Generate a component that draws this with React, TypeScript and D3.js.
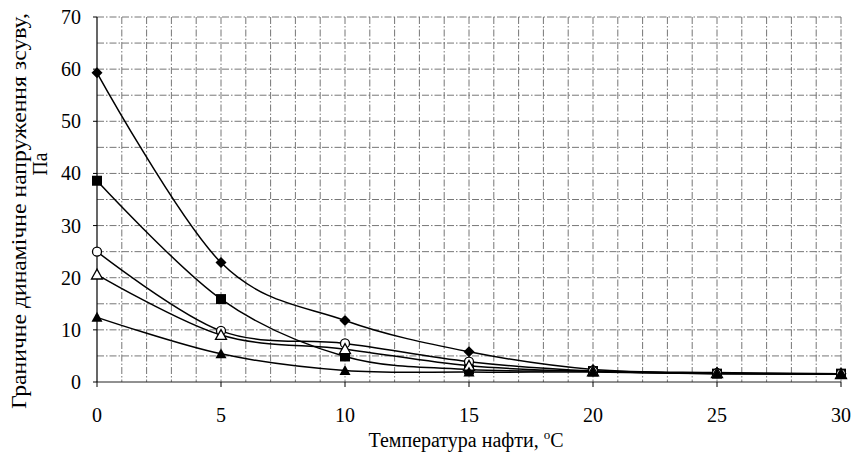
import React from "react";
import * as d3 from "d3";

const temps = [0, 5, 10, 15, 20, 25, 30];
const seriesDiamond = [59.3, 22.9, 11.8, 5.8, 2.4, 1.8, 1.6];
const seriesSquare = [38.6, 15.9, 4.9, 2.4, 2.1, 1.6, 1.6];
const seriesCircle = [25.0, 9.8, 7.4, 3.9, 2.1, 1.7, 1.6];
const seriesTriOpen = [20.6, 9.0, 6.3, 3.1, 2.0, 1.7, 1.5];
const seriesTriFilled = [12.4, 5.4, 2.2, 1.9, 1.9, 1.6, 1.5];
const xTicks = [0, 5, 10, 15, 20, 25, 30];
const yTicks = [0, 10, 20, 30, 40, 50, 60, 70];

const series = [
  { name: "diamond", values: seriesDiamond, marker: "diamond" },
  { name: "square", values: seriesSquare, marker: "square" },
  { name: "circle", values: seriesCircle, marker: "circle" },
  { name: "triOpen", values: seriesTriOpen, marker: "triOpen" },
  { name: "triFilled", values: seriesTriFilled, marker: "triFilled" },
];

const W = 862;
const H = 452;
const L = 97, R = 841, T = 17, B = 382;

export default function App() {
  const x = d3.scaleLinear().domain([0, 30]).range([L, R]);
  const y = d3.scaleLinear().domain([0, 70]).range([B, T]);
  const line = d3
    .line<number>()
    .x((_, i) => x(temps[i]))
    .y((d) => y(d))
    .curve(d3.curveCatmullRom.alpha(0));
  const vGrid = d3.range(1, 31);
  const hGrid = d3.range(5, 71, 5);
  const font = "Liberation Serif, DejaVu Serif, serif";
  const dash = "7,2,1.5,2";

  const marker = (m: string, cx: number, cy: number, key: string) => {
    if (m === "diamond") {
      const s = 5.5;
      return <path key={key} d={`M${cx},${cy - s}L${cx + s},${cy}L${cx},${cy + s}L${cx - s},${cy}Z`} fill="#000" />;
    }
    if (m === "square") {
      const s = 5;
      return <rect key={key} x={cx - s} y={cy - s} width={2 * s} height={2 * s} fill="#000" />;
    }
    if (m === "circle") {
      return <circle key={key} cx={cx} cy={cy} r={4.5} fill="#fff" stroke="#000" strokeWidth={1.3} />;
    }
    const s = 5.5;
    const d = `M${cx},${cy - s}L${cx + s},${cy + s * 0.8}L${cx - s},${cy + s * 0.8}Z`;
    if (m === "triOpen") return <path key={key} d={d} fill="#fff" stroke="#000" strokeWidth={1.3} />;
    return <path key={key} d={d} fill="#000" />;
  };

  return (
    <svg width={W} height={H} style={{ position: "absolute", left: 0, top: 0, background: "#fff" }}>
      <rect x={0} y={0} width={W} height={H} fill="#fff" />
      <g stroke="#666" strokeWidth={0.9} strokeDasharray={dash}>
        {vGrid.map((v) => (
          <line key={"v" + v} x1={x(v)} x2={x(v)} y1={T} y2={B} />
        ))}
        {hGrid.map((v) => (
          <line key={"h" + v} x1={L} x2={R} y1={y(v)} y2={y(v)} />
        ))}
      </g>
      <line x1={L} x2={R} y1={B} y2={B} stroke="#222" strokeWidth={1} />
      <line x1={L} x2={L} y1={T} y2={B} stroke="#000" strokeWidth={1.2} />
      {xTicks.map((v) => (
        <line key={"xt" + v} x1={x(v)} x2={x(v)} y1={B} y2={B + 5} stroke="#000" strokeWidth={1} />
      ))}
      {yTicks.map((v) => (
        <line key={"yt" + v} x1={L - 4} x2={L} y1={y(v)} y2={y(v)} stroke="#000" strokeWidth={1} />
      ))}
      {series.map((s) => (
        <path key={s.name} d={line(s.values) || ""} fill="none" stroke="#000" strokeWidth={1.5} />
      ))}
      {series.map((s) => s.values.map((v, i) => marker(s.marker, x(temps[i]), y(v), s.name + i)))}
      <g fontFamily={font} fontSize={20} fill="#000">
        {xTicks.map((v) => (
          <text key={"xl" + v} x={x(v)} y={422} textAnchor="middle">{v}</text>
        ))}
        {yTicks.map((v) => (
          <text key={"yl" + v} x={81} y={y(v) + 7} textAnchor="end">{v}</text>
        ))}
        <text x={466} y={447} textAnchor="middle" fontSize={20}>
          Температура нафти, <tspan fontSize={13} dy={-8}>o</tspan><tspan dy={8}>C</tspan>
        </text>
        <text transform="translate(26,211) rotate(-90)" textAnchor="middle" fontSize={20}
          textLength={396} lengthAdjust="spacingAndGlyphs">
          Граничне динамічне напруження зсуву,
        </text>
        <text transform="translate(47,164) rotate(-90)" textAnchor="middle" fontSize={20}
          textLength={23} lengthAdjust="spacingAndGlyphs">
          Па
        </text>
      </g>
    </svg>
  );
}
